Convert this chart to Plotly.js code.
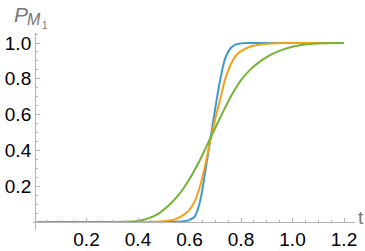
<!DOCTYPE html>
<html><head><meta charset="utf-8">
<script src="https://cdn.plot.ly/plotly-3.0.1.min.js"></script>
<style>html,body{margin:0;padding:0;background:#fff}#c{width:365px;height:251px}</style>
</head><body><div id="c"></div>
<script>
const blueT = [0, 0.5, 0.56, 0.58, 0.60, 0.62, 0.64, 0.66, 0.68, 0.70, 0.72, 0.74, 0.76, 0.78, 0.80, 0.84, 1.2];
const blueP = [0, 0, 0.001, 0.004, 0.012, 0.03, 0.11, 0.27, 0.455, 0.635, 0.80, 0.92, 0.972, 0.992, 0.998, 1, 1];
const orangeT = [0, 0.4, 0.46, 0.50, 0.54, 0.56, 0.58, 0.60, 0.62, 0.64, 0.66, 0.68, 0.70, 0.72, 0.74, 0.76, 0.78, 0.80, 0.84, 0.88, 0.92, 0.96, 1.2];
const orangeP = [0, 0, 0.001, 0.004, 0.013, 0.025, 0.042, 0.068, 0.115, 0.195, 0.31, 0.45, 0.575, 0.69, 0.805, 0.88, 0.93, 0.955, 0.982, 0.993, 0.998, 1, 1];
const greenT = [0, 0.3, 0.36, 0.40, 0.44, 0.48, 0.52, 0.56, 0.60, 0.64, 0.68, 0.72, 0.76, 0.80, 0.84, 0.88, 0.92, 0.96, 1.00, 1.04, 1.08, 1.12, 1.2];
const greenP = [0, 0, 0.001, 0.006, 0.02, 0.047, 0.093, 0.155, 0.24, 0.345, 0.465, 0.585, 0.7, 0.793, 0.857, 0.903, 0.938, 0.962, 0.979, 0.99, 0.996, 0.999, 1];
const xTicks = [0.2, 0.4, 0.6, 0.8, 1.0, 1.2];
const xTickText = ["0.2", "0.4", "0.6", "0.8", "1.0", "1.2"];
const yTicks = [0.2, 0.4, 0.6, 0.8, 1.0];
const yTickText = ["0.2", "0.4", "0.6", "0.8", "1.0"];

const colors = ["#3D99CC", "#F2A01A", "#74B336"];
const series = [[blueT, blueP], [orangeT, orangeP], [greenT, greenP]];
const traces = series.map((s, i) => ({
  x: s[0], y: s[1], type: "scatter", mode: "lines",
  line: {color: colors[i], width: 2, shape: "spline", smoothing: 1},
  hoverinfo: "skip", showlegend: false
}));

const axisCol = "#b3b3b3";
const tickFont = {family: "Liberation Sans, Arial, sans-serif", size: 19, color: "#000"};
const xr = [-0.0078, 1.2427], yr = [-0.045, 1.056];
const layout = {
  width: 365, height: 251,
  margin: {l: 33, r: 10, t: 33, b: 21, pad: 0},
  paper_bgcolor: "#fff", plot_bgcolor: "#fff",
  showlegend: false,
  xaxis: {
    range: xr, anchor: "free", position: (0 - yr[0]) / (yr[1] - yr[0]),
    showline: true, linecolor: axisCol, linewidth: 1,
    showgrid: false, zeroline: false,
    tickmode: "array", tickvals: xTicks, ticktext: xTickText,
    ticks: "inside", ticklen: 4, tickcolor: axisCol, tickwidth: 1,
    minor: {tickmode: "linear", tick0: 0, dtick: 0.05, ticks: "inside", ticklen: 2, tickcolor: axisCol, showgrid: false},
    tickfont: tickFont, fixedrange: true
  },
  yaxis: {
    range: yr, anchor: "free", position: (0 - xr[0]) / (xr[1] - xr[0]),
    showline: true, linecolor: axisCol, linewidth: 1,
    showgrid: false, zeroline: false,
    tickmode: "array", tickvals: yTicks, ticktext: yTickText,
    ticks: "inside", ticklen: 4, tickcolor: axisCol, tickwidth: 1,
    minor: {tickmode: "linear", tick0: 0, dtick: 0.05, ticks: "inside", ticklen: 2, tickcolor: axisCol, showgrid: false},
    tickfont: tickFont, fixedrange: true
  },
  annotations: [
    {text: "t", xref: "paper", yref: "paper", x: (361 - 33) / 322, y: (230 - 217) / 197, xanchor: "center", yanchor: "middle", showarrow: false,
     font: {family: "Liberation Sans, Arial, sans-serif", size: 19, color: "#777"}},
    {text: "<i>P</i>", xref: "paper", yref: "paper", x: (21 - 33) / 322, y: (230 - 14) / 197, xanchor: "center", yanchor: "middle", showarrow: false,
     font: {family: "Liberation Sans, Arial, sans-serif", size: 21, color: "#777"}},
    {text: "<i>M</i>", xref: "paper", yref: "paper", x: (33.5 - 33) / 322, y: (230 - 20) / 197, xanchor: "center", yanchor: "middle", showarrow: false,
     font: {family: "Liberation Sans, Arial, sans-serif", size: 16, color: "#777"}},
    {text: "1", xref: "paper", yref: "paper", x: (44.5 - 33) / 322, y: (230 - 25) / 197, xanchor: "center", yanchor: "middle", showarrow: false,
     font: {family: "Liberation Sans, Arial, sans-serif", size: 10, color: "#777"}}
  ]
};
Plotly.newPlot("c", traces, layout, {staticPlot: true, displayModeBar: false});
</script></body></html>
